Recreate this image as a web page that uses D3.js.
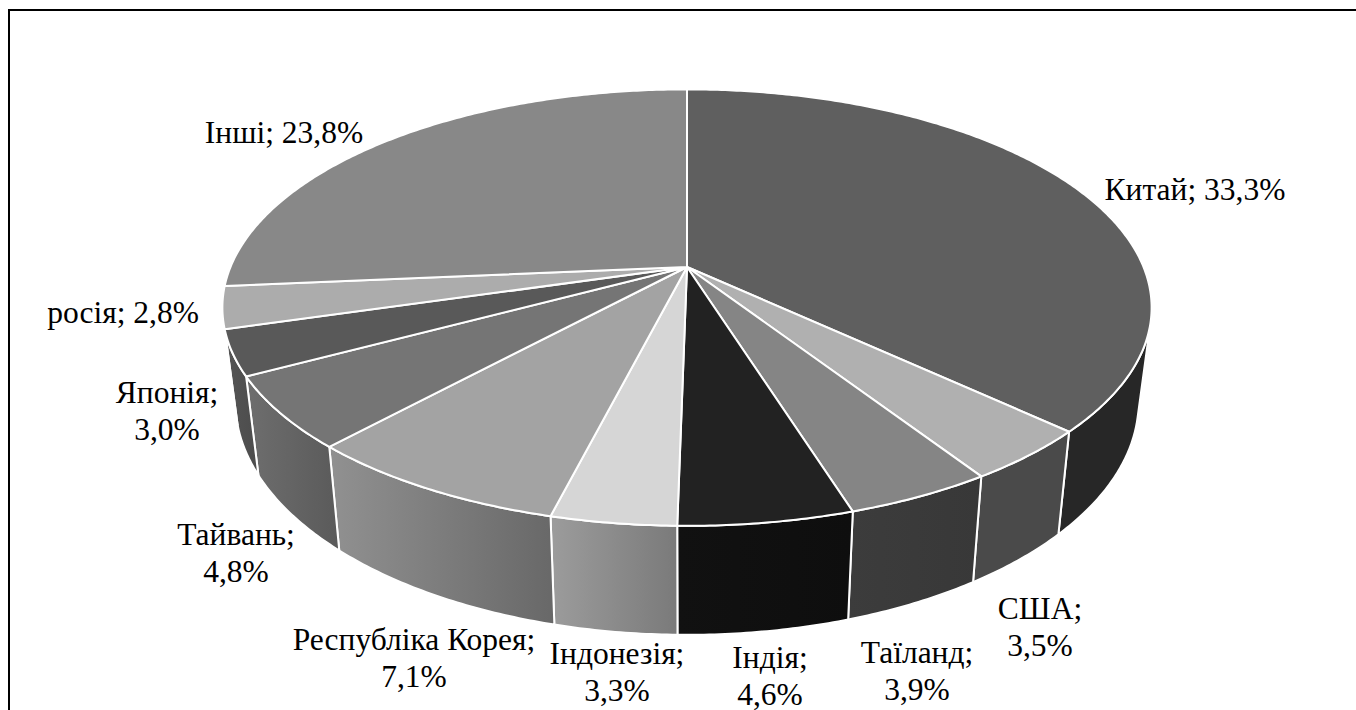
<!DOCTYPE html>
<html>
<head>
<meta charset="utf-8">
<script src="https://cdn.jsdelivr.net/npm/d3@7"></script>
<style>
  html, body { margin: 0; padding: 0; background: #fff; overflow: hidden; }
  text { font-family: "Liberation Serif", serif; font-size: 31.5px; fill: #000; }
</style>
</head>
<body>
<div id="chart"></div>
<script>
const categories = ["Китай", "США", "Таїланд", "Індія", "Індонезія", "Республіка Корея", "Тайвань", "Японія", "росія", "Інші"];
const shares = [33.3, 3.5, 3.9, 4.6, 3.3, 7.1, 4.8, 3.0, 2.8, 23.8];
const topColors = ["#5f5f5f", "#b0b0b0", "#858585", "#222222", "#d6d6d6", "#a3a3a3", "#757575", "#595959", "#acacac", "#888888"];
const wallStart = ["#272727", "#4a4a4a", "#3c3c3c", "#111111", "#9c9c9c", "#919191", "#6e6e6e", "#555555", "#555555", "#555555"];
const wallEnd = ["#272727", "#4a4a4a", "#383838", "#0e0e0e", "#7a7a7a", "#686868", "#5a5a5a", "#4c4c4c", "#555555", "#555555"];

// label anchors: x, first baseline, and whether the value goes on a second line
const labelX = [1195, 1040, 917, 770, 617, 414, 236, 167, 123, 284];
const labelY = [200, 619, 663, 668, 664, 650, 545, 403, 323, 143];
const labelWrap = [false, true, true, true, true, true, true, true, false, false];

const width = 1356;
const height = 710;
const lineHeight = 36.5;

// perspective of the pie top: the apex does not sit in the middle of the ellipse
const cx = 687;
const apexY = 267;
const persp = -0.186;
const scaleX = 456.5;
const scaleY = 161;

function topPoint(angle) {
    const u = Math.sin(angle);
    const v = -Math.cos(angle);
    const w = 1 + persp * v;
    return [cx + scaleX * u / w, (apexY + scaleY * v) / w];
}

// the bottom rim is the top rim squeezed in x and pushed down
const bottomX = d3.scaleLinear().domain([0, 1]).range([cx, cx + 0.972]);
const bottomY = d3.scaleLinear().domain([0, 1]).range([73.5, 73.5 + 1.0676]);

function bottomPoint(angle) {
    const p = topPoint(angle);
    return [bottomX(p[0] - cx), bottomY(p[1])];
}

const pie = d3.pie().sort(null).value(d => d);
const slices = pie(shares);
const line = d3.line();

function arcAngles(a0, a1) {
    const n = Math.max(2, Math.ceil((a1 - a0) / 0.01));
    return d3.range(n + 1).map(i => a0 + (a1 - a0) * i / n);
}

function wallStepArea(a) {
    const step = 0.002;
    return d3.polygonArea([topPoint(a), topPoint(a + step), bottomPoint(a + step), bottomPoint(a)]);
}

// a wall step faces the viewer when it winds the same way as the step at the very front
const frontArea = wallStepArea(Math.PI);
const facesFront = a => wallStepArea(a) * frontArea > 0;

const svg = d3.select("#chart")
    .append("svg")
        .attr("width", width)
        .attr("height", height)
        .style("display", "block");

const defs = svg.append("defs");

// frame: only left and top edges are inside the picture
svg.append("path")
    .attr("d", line([[9, height + 5], [9, 10], [width + 5, 10]]))
    .attr("fill", "none")
    .attr("stroke", "#000")
    .attr("stroke-width", 2);

slices.forEach((s, i) => {
    const angles = arcAngles(s.startAngle, s.endAngle).filter(facesFront);
    if (angles.length < 2) return;
    const pts = angles.map(topPoint).concat(angles.slice().reverse().map(bottomPoint));
    const xs = d3.extent(pts, d => d[0]);
    const grad = defs.append("linearGradient")
        .attr("id", "wall" + i)
        .attr("gradientUnits", "userSpaceOnUse")
        .attr("x1", xs[0]).attr("x2", xs[1])
        .attr("y1", 0).attr("y2", 0);
    grad.append("stop").attr("offset", 0).attr("stop-color", wallStart[i]);
    grad.append("stop").attr("offset", 1).attr("stop-color", wallEnd[i]);

    svg.append("path")
        .attr("d", line(pts) + "Z")
        .attr("fill", "url(#wall" + i + ")")
        .attr("stroke", "#fff")
        .attr("stroke-width", 2)
        .attr("stroke-linejoin", "round");
});

svg.append("g")
    .selectAll("path")
    .data(slices)
    .join("path")
        .attr("d", s => line([[cx, apexY]].concat(arcAngles(s.startAngle, s.endAngle).map(topPoint))) + "Z")
        .attr("fill", (s, i) => topColors[i])
        .attr("stroke", "#fff")
        .attr("stroke-width", 2)
        .attr("stroke-linejoin", "round");

const formatShare = v => v.toFixed(1).replace(".", ",") + "%";

const labels = svg.append("g")
    .selectAll("text")
    .data(categories)
    .join("text")
        .attr("text-anchor", "middle")
        .attr("y", (d, i) => labelY[i]);

labels.each(function(d, i) {
    const t = d3.select(this);
    if (labelWrap[i]) {
        t.append("tspan").attr("x", labelX[i]).text(d + ";");
        t.append("tspan").attr("x", labelX[i]).attr("dy", lineHeight).text(formatShare(shares[i]));
    } else {
        t.append("tspan").attr("x", labelX[i]).text(d + "; " + formatShare(shares[i]));
    }
});
</script>
</body>
</html>
